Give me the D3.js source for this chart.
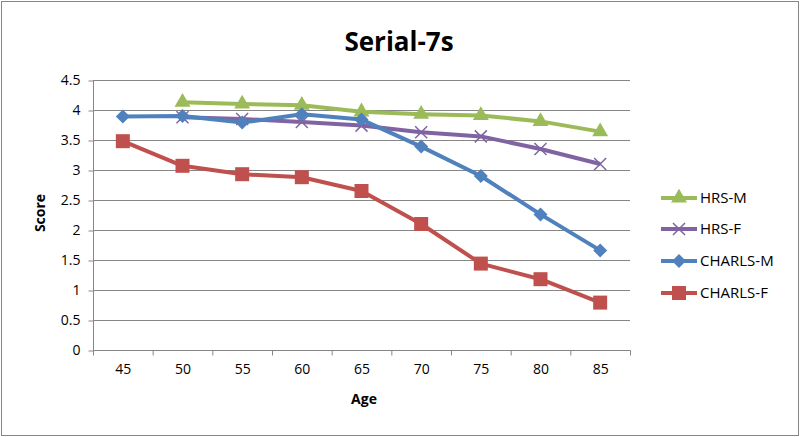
<!DOCTYPE html>
<html><head><meta charset="utf-8">
<script src="https://cdn.jsdelivr.net/npm/d3@7"></script>
<style>body{margin:0;background:#fff}svg{display:block}</style>
</head><body>
<script>
const ages = ["45","50","55","60","65","70","75","80","85"];
const hrsM = [null,4.13,4.10,4.08,3.97,3.93,3.91,3.81,3.64];
const hrsF = [null,3.88,3.85,3.80,3.74,3.63,3.56,3.35,3.10];
const charlsM = [3.89,3.90,3.79,3.93,3.84,3.39,2.90,2.26,1.66];
const charlsF = [3.48,3.07,2.93,2.88,2.65,2.10,1.44,1.18,0.79];
const yTicks = [0,0.5,1,1.5,2,2.5,3,3.5,4,4.5];
const seriesNames = ["HRS-M","HRS-F","CHARLS-M","CHARLS-F"];
const seriesColors = ["#9BBB59","#8064A2","#4F81BD","#C0504D"];
const seriesMarkers = ["triangle","x","diamond","square"];
const seriesData = [hrsM,hrsF,charlsM,charlsF];

(function(){
const W=800,H=437;
const font="'Open Sans', 'Liberation Sans', sans-serif";
const svg=d3.select("body").append("svg").attr("width",W).attr("height",H);
svg.append("rect").attr("x",1.5).attr("y",1.5).attr("width",W-3).attr("height",H-3)
  .attr("fill","#fff").attr("stroke","#868686").attr("stroke-width",1);

const pL=93,pR=630,pT=80,pB=350;
const x=d3.scaleBand().domain(ages).range([pL,pR]);
const y=d3.scaleLinear().domain([0,4.5]).range([pB,pT]);

svg.append("g").selectAll("line").data(yTicks).join("line")
  .attr("x1",pL).attr("x2",pR).attr("y1",d=>y(d)+0.5).attr("y2",d=>y(d)+0.5)
  .attr("stroke","#868686").attr("stroke-width",1);

const ya=svg.append("g").attr("transform",`translate(${pL+0.5},0.5)`)
  .call(d3.axisLeft(y).tickValues(yTicks).tickSize(5).tickPadding(8).tickFormat(d=>String(d)));
ya.select(".domain").attr("stroke","#868686").attr("d",`M0,${pT}V${pB}`);
ya.selectAll(".tick line").attr("stroke","#868686");
ya.selectAll("text").attr("font-family",font).attr("font-size",14).attr("fill","#000");

const xa=svg.append("g").attr("transform",`translate(0.5,${pB+0.5})`)
  .call(d3.axisBottom(x).tickSize(0).tickPadding(14));
xa.select(".domain").attr("stroke","#868686").attr("d",`M${pL},0H${pR}`);
xa.selectAll("text").attr("font-family",font).attr("font-size",14).attr("fill","#000");
const bounds=ages.map(a=>x(a)).concat([pR]);
xa.selectAll(".btick").data(bounds).join("line").attr("class","btick")
  .attr("x1",d=>d).attr("x2",d=>d).attr("y1",0).attr("y2",5).attr("stroke","#868686");

svg.append("text").attr("x",399).attr("y",51).attr("text-anchor","middle")
  .attr("font-family",font).attr("font-weight","bold").attr("font-size",26).text("Serial-7s");
svg.append("text").attr("x",364).attr("y",404).attr("text-anchor","middle")
  .attr("font-family",font).attr("font-weight","bold").attr("font-size",14).text("Age");
svg.append("text").attr("transform",`translate(45,213) rotate(-90)`).attr("text-anchor","middle")
  .attr("font-family",font).attr("font-weight","bold").attr("font-size",14).text("Score");

function marker(g,type,color){
  if(type==="triangle") g.append("path").attr("d",d3.symbol(d3.symbolTriangle,110)()).attr("fill",color);
  else if(type==="diamond") g.append("path").attr("d","M0,-7L7,0L0,7L-7,0Z").attr("fill",color);
  else if(type==="square") g.append("rect").attr("x",-7).attr("y",-7).attr("width",14).attr("height",14).attr("fill",color);
  else if(type==="x") g.append("path").attr("d","M-6,-6L6,6M-6,6L6,-6").attr("stroke",color).attr("stroke-width",1.5).attr("fill","none");
}

const line=d3.line().defined(d=>d.v!=null).x(d=>x(d.a)+x.bandwidth()/2).y(d=>y(d.v));
seriesData.forEach((arr,i)=>{
  const pts=arr.map((v,j)=>({a:ages[j],v}));
  svg.append("path").datum(pts).attr("d",line).attr("fill","none")
    .attr("stroke",seriesColors[i]).attr("stroke-width",4).attr("stroke-linejoin","round");
  pts.filter(p=>p.v!=null).forEach(p=>{
    const g=svg.append("g").attr("transform",`translate(${x(p.a)+x.bandwidth()/2},${y(p.v)})`);
    marker(g,seriesMarkers[i],seriesColors[i]);
  });
});

const legY=[198,229,261,293];
seriesNames.forEach((n,i)=>{
  const g=svg.append("g");
  g.append("line").attr("x1",661).attr("x2",697).attr("y1",legY[i]).attr("y2",legY[i])
    .attr("stroke",seriesColors[i]).attr("stroke-width",4);
  const m=g.append("g").attr("transform",`translate(679,${legY[i]})`);
  marker(m,seriesMarkers[i],seriesColors[i]);
  g.append("text").attr("x",700).attr("y",legY[i]+5).attr("font-family",font).attr("font-size",15).text(n);
});
})();
</script>
</body></html>
